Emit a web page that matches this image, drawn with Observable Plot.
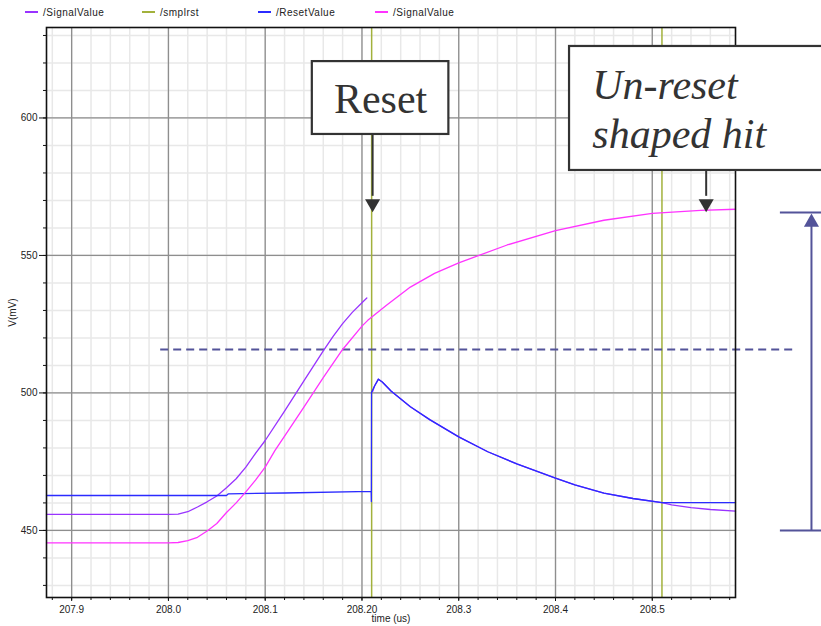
<!DOCTYPE html>
<html>
<head>
<meta charset="utf-8">
<script src="https://cdn.jsdelivr.net/npm/d3@7"></script>
<script src="https://cdn.jsdelivr.net/npm/@observablehq/plot@0.6"></script>
<style>
  html, body { margin: 0; padding: 0; background: #fff; overflow: hidden; }
  #wrap { position: relative; width: 821px; height: 626px; overflow: hidden; }
  #legend { position: absolute; left: 0; top: 0; width: 821px; height: 24px; font: 10px "Liberation Sans", Arial, sans-serif; letter-spacing: 0.5px; color: #222; }
  .item { position: absolute; top: 6px; height: 12px; display: flex; align-items: center; }
  .sw { display: block; flex: none; width: 13px; height: 2px; margin-right: 5px; }
</style>
</head>
<body>
<div id="wrap"><div id="legend"></div></div>
<script>
// ---------- data (time in us, value in mV) ----------
const seriesNames = ["/SignalValue", "/smplrst", "/ResetValue", "/SignalValue"];
const seriesColors = ["#9933ff", "#a2b13c", "#2b2bff", "#ff33ff"];

const purpleRiseT = [207.874, 208.0, 208.01, 208.02, 208.03, 208.04, 208.05, 208.06, 208.07, 208.08, 208.09, 208.1, 208.12, 208.14, 208.16, 208.17, 208.18, 208.19, 208.2, 208.205];
const purpleRiseV = [455.8, 455.8, 455.9, 456.8, 458.5, 460.4, 462.5, 465.5, 468.8, 473, 478, 482.7, 493.4, 504.4, 515.3, 520.5, 525.2, 529.3, 532.8, 534.5];

const purpleDecayT = [208.211, 208.213, 208.217, 208.221, 208.23, 208.25, 208.27, 208.3, 208.33, 208.36, 208.4, 208.42, 208.45, 208.48, 208.51, 208.52, 208.54, 208.56, 208.586];
const purpleDecayV = [500.5, 502.5, 505, 504, 500.7, 495, 490.3, 484, 478.6, 474.2, 469, 466.6, 463.6, 461.6, 460.1, 459.3, 458.3, 457.6, 457.0];

const blueT = [207.874, 208.06, 208.062, 208.12, 208.2095, 208.2097, 208.2099, 208.213, 208.217, 208.221, 208.23, 208.25, 208.27, 208.3, 208.33, 208.36, 208.4, 208.42, 208.45, 208.48, 208.51, 208.586];
const blueV = [462.7, 462.7, 463.3, 463.6, 464.2, 460.5, 500.2, 502.5, 505, 504, 500.7, 495, 490.3, 484, 478.6, 474.2, 469, 466.6, 463.6, 461.6, 460.1, 460.1];

const magentaT = [207.874, 208.0, 208.01, 208.02, 208.03, 208.04, 208.05, 208.06, 208.07, 208.08, 208.09, 208.1, 208.11, 208.124, 208.14, 208.16, 208.18, 208.2, 208.206, 208.225, 208.25, 208.275, 208.3, 208.35, 208.4, 208.45, 208.5, 208.55, 208.586];
const magentaV = [445.5, 445.5, 445.6, 446.3, 447.5, 449.8, 452.5, 456.5, 460, 464, 468.3, 473, 479, 486.4, 494.8, 505.6, 515.8, 524.3, 526.4, 531.8, 538.5, 543.5, 547.3, 553.8, 559, 562.8, 565.3, 566.4, 566.8];

const smplrstT = [208.21, 208.51];

// axis ticks
const xMajor = [207.9, 208.0, 208.1, 208.2, 208.3, 208.4, 208.5];
const xLabels = ["207.9", "208.0", "208.1", "208.20", "208.3", "208.4", "208.5"];
const xMinor = d3.range(0, 36).map(i => +(207.88 + i * 0.02).toFixed(3));
const yMajor = [450, 500, 550, 600];
const yLabels = ["450", "500", "550", "600"];
const yMinor = d3.range(43, 64).map(i => i * 10);

// annotations (data coordinates)
const threshold = [{y: 515.8, x1: 207.992, x2: 208.65}];
const boxes = [
  {x1: 208.1487, x2: 208.2898, y1: 594.0, y2: 620.5},
  {x1: 208.4145, x2: 208.72, y1: 580.9, y2: 626.0}
];
const resetText = [{x: 208.2192, y: 601.7, text: "Reset"}];
const unresetText = [{x: 208.438, y: 588.9, text: "Un-reset\nshaped hit"}];
const arrowStems = [{x: 208.211, y1: 594.0, y2: 571.5}, {x: 208.5557, y1: 580.9, y2: 571.5}];
const arrowHeads = [{x: 208.211, y: 568.85}, {x: 208.5557, y: 568.85}];
const bracketCaps = [{y: 565.6, x1: 208.6324, x2: 208.69}, {y: 450.0, x1: 208.6324, x2: 208.69}];
const bracketStem = [{x: 208.6645, y1: 450.0, y2: 560.5}];
const bracketHead = [{x: 208.6645, y: 562.06}];

// ---------- build ----------
const rows = (ts, vs) => ts.map((t, i) => ({t, v: vs[i]}));
const xLabelMap = new Map(xMajor.map((d, i) => [d, xLabels[i]]));
const yLabelMap = new Map(yMajor.map((d, i) => [d, yLabels[i]]));
const annoColor = "#333333";
const bracketColor = "#535399";
const serif = "'Liberation Serif', 'Times New Roman', serif";

const chart = Plot.plot({
  width: 821,
  height: 626,
  marginLeft: 46,
  marginRight: 86,
  marginTop: 27,
  marginBottom: 29,
  style: {fontSize: "10px", fontFamily: "'Liberation Sans', Arial, sans-serif", background: "white", color: "#222", overflow: "hidden"},
  x: {domain: [207.874, 208.586]},
  y: {domain: [425.6, 632.9]},
  marks: [
    Plot.ruleX(xMinor, {stroke: "#e8e8e8", strokeWidth: 1.5}),
    Plot.ruleY(yMinor, {stroke: "#e8e8e8", strokeWidth: 1.5}),
    Plot.ruleX(xMajor, {stroke: "#8e8e8e", strokeWidth: 1.3}),
    Plot.ruleY(yMajor, {stroke: "#8e8e8e", strokeWidth: 1.3}),
    Plot.ruleX(smplrstT, {stroke: seriesColors[1], strokeWidth: 1.5}),
    Plot.ruleY(threshold, {y: "y", x1: "x1", x2: "x2", stroke: bracketColor, strokeWidth: 2, strokeDasharray: "8,5"}),
    Plot.line(rows(purpleRiseT, purpleRiseV), {x: "t", y: "v", stroke: seriesColors[0], strokeWidth: 1.3}),
    Plot.line(rows(purpleDecayT, purpleDecayV), {x: "t", y: "v", stroke: seriesColors[0], strokeWidth: 1.3}),
    Plot.line(rows(blueT, blueV), {x: "t", y: "v", stroke: seriesColors[2], strokeWidth: 1.3}),
    Plot.line(rows(magentaT, magentaV), {x: "t", y: "v", stroke: seriesColors[3], strokeWidth: 1.3}),
    Plot.frame({stroke: "#111", strokeWidth: 1.6}),
    Plot.axisX(xMinor, {tickSize: 3, tickFormat: () => "", stroke: "#111", label: null}),
    Plot.axisX(xMajor, {tickSize: 4, tickPadding: 4, tickFormat: d => xLabelMap.get(d), stroke: "#111", fill: "#222", label: null}),
    Plot.axisY(yMinor, {tickSize: 3, tickFormat: () => "", stroke: "#111", label: null}),
    Plot.axisY(yMajor, {tickSize: 7, tickPadding: 2, tickFormat: d => yLabelMap.get(d), stroke: "#111", fill: "#222", label: null}),
    Plot.text(["V(mV)"], {frameAnchor: "left", dx: -34, rotate: -90, fill: "#222", fontSize: 10, textAnchor: "middle", lineAnchor: "middle"}),
    Plot.text(["time (us)"], {frameAnchor: "bottom", dy: 21, fill: "#222", fontSize: 10, textAnchor: "middle", lineAnchor: "middle"}),
    // annotations
    Plot.rect(boxes, {x1: "x1", x2: "x2", y1: "y1", y2: "y2", fill: "white", stroke: annoColor, strokeWidth: 2.2}),
    Plot.text(resetText, {x: "x", y: "y", text: "text", textAnchor: "middle", lineAnchor: "bottom", fontSize: 42, fontFamily: serif, fill: annoColor}),
    Plot.text(unresetText, {x: "x", y: "y", text: "text", textAnchor: "start", fontStyle: "italic", lineAnchor: "bottom", lineHeight: 1.19, fontSize: 42, fontFamily: serif, fill: annoColor}),
    Plot.ruleX(arrowStems, {x: "x", y1: "y1", y2: "y2", stroke: annoColor, strokeWidth: 2}),
    Plot.dot(arrowHeads, {x: "x", y: "y", symbol: "triangle", rotate: 180, r: 5.6, fill: annoColor, stroke: "none"}),
    Plot.ruleY(bracketCaps, {y: "y", x1: "x1", x2: "x2", stroke: bracketColor, strokeWidth: 2}),
    Plot.ruleX(bracketStem, {x: "x", y1: "y1", y2: "y2", stroke: bracketColor, strokeWidth: 2}),
    Plot.dot(bracketHead, {x: "x", y: "y", symbol: "triangle", r: 5.6, fill: bracketColor, stroke: "none"})
  ]
});
chart.style.position = "absolute";
chart.style.left = "0px";
chart.style.top = "0px";
const wrap = document.getElementById("wrap");
wrap.insertBefore(chart, wrap.firstChild);

// legend
const legendLefts = [25, 142, 258, 375];
const legend = document.getElementById("legend");
seriesNames.forEach((name, i) => {
  const item = document.createElement("div");
  item.className = "item";
  item.style.left = legendLefts[i] + "px";
  const sw = document.createElement("div");
  sw.className = "sw";
  sw.style.backgroundColor = seriesColors[i];
  const label = document.createElement("span");
  label.textContent = name;
  item.appendChild(sw);
  item.appendChild(label);
  legend.appendChild(item);
});
</script>
</body>
</html>
